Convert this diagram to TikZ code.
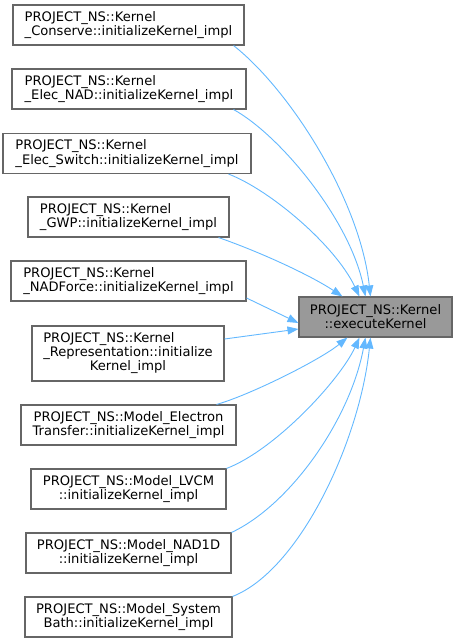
\documentclass[tikz,border=0pt]{standalone}
\usepackage{fontspec}
\setmainfont{DejaVu Sans}
\usetikzlibrary{arrows.meta}
\definecolor{edgeblue}{HTML}{63B8FF}
\definecolor{boxborder}{HTML}{666666}
\definecolor{targetfill}{HTML}{999999}
\begin{document}
\begin{tikzpicture}[x=1bp,y=-1bp,
  fnbox/.style={draw=boxborder, line width=1.1bp, fill=white, minimum height=40bp,
    inner sep=0pt, font=\fontsize{13.1bp}{14.2bp}\selectfont, align=left},
  fnboxc/.style={fnbox, align=center},
  target/.style={fnbox, fill=targetfill, align=center},
  calls/.style={draw=edgeblue, line width=0.9bp, -{Triangle[length=11bp,width=8bp]}}]
\useasboundingbox (0,0) rectangle (457,643);
\node[fnbox, minimum width=231bp] (c1) at (128.5,25) {PROJECT\_NS::Kernel\\\_Conserve::initializeKernel\_impl};
\node[fnbox, minimum width=234bp] (c2) at (129,89) {PROJECT\_NS::Kernel\\\_Elec\_NAD::initializeKernel\_impl};
\node[fnbox, minimum width=248bp] (c3) at (127,153.5) {PROJECT\_NS::Kernel\\\_Elec\_Switch::initializeKernel\_impl};
\node[fnbox, minimum width=201bp] (c4) at (128.5,217) {PROJECT\_NS::Kernel\\\_GWP::initializeKernel\_impl};
\node[fnbox, minimum width=235bp] (c5) at (128.5,281) {PROJECT\_NS::Kernel\\\_NADForce::initializeKernel\_impl};
\node[fnbox, minimum width=192bp, minimum height=55bp] (c6) at (128,353.5) {\begin{tabular}{@{}l@{}}PROJECT\_NS::Kernel\\\_Representation::initialize\\\multicolumn{1}{@{}c@{}}{Kernel\_impl}\end{tabular}};
\node[fnboxc, minimum width=215bp] (c7) at (128.5,425) {PROJECT\_NS::Model\_Electron\\Transfer::initializeKernel\_impl};
\node[fnboxc, minimum width=195bp] (c8) at (128.5,489) {PROJECT\_NS::Model\_LVCM\\::initializeKernel\_impl};
\node[fnboxc, minimum width=205bp] (c9) at (128.5,553) {PROJECT\_NS::Model\_NAD1D\\::initializeKernel\_impl};
\node[fnboxc, minimum width=207bp] (c10) at (128.5,617) {PROJECT\_NS::Model\_System\\Bath::initializeKernel\_impl};
\node[target, minimum width=153bp] (t) at (375.5,317) {PROJECT\_NS::Kernel\\::executeKernel};

\draw[calls] ([xshift=-11bp]c1.south east) .. controls (290,90) and (360,200) .. ([xshift=72bp]t.north west);
\draw[calls] ([xshift=-13bp]c2.south east) .. controls (280,135) and (350,220) .. ([xshift=67bp]t.north west);
\draw[calls] ([xshift=-23bp]c3.south east) .. controls (270,190) and (335,245) .. ([xshift=61bp]t.north west);
\draw[calls] ([xshift=-11bp]c4.south east) .. controls (260,252) and (310,275) .. ([xshift=44bp]t.north west);
\draw[calls] ([yshift=-17bp]c5.east) -- ([yshift=-6bp]t.west);
\draw[calls] ([yshift=14.5bp]c6.east) -- ([yshift=-12bp]t.west);
\draw[calls] ([xshift=-20bp]c7.north east) .. controls (250,395) and (320,360) .. ([xshift=49bp]t.south west);
\draw[calls] (c8.north east) .. controls (275,450) and (340,380) .. ([xshift=61bp]t.south west);
\draw[calls] (c9.north east) .. controls (290,505) and (350,420) .. ([xshift=67bp]t.south west);
\draw[calls] (c10.north east) .. controls (300,570) and (360,440) .. ([xshift=72bp]t.south west);
\end{tikzpicture}
\end{document}
